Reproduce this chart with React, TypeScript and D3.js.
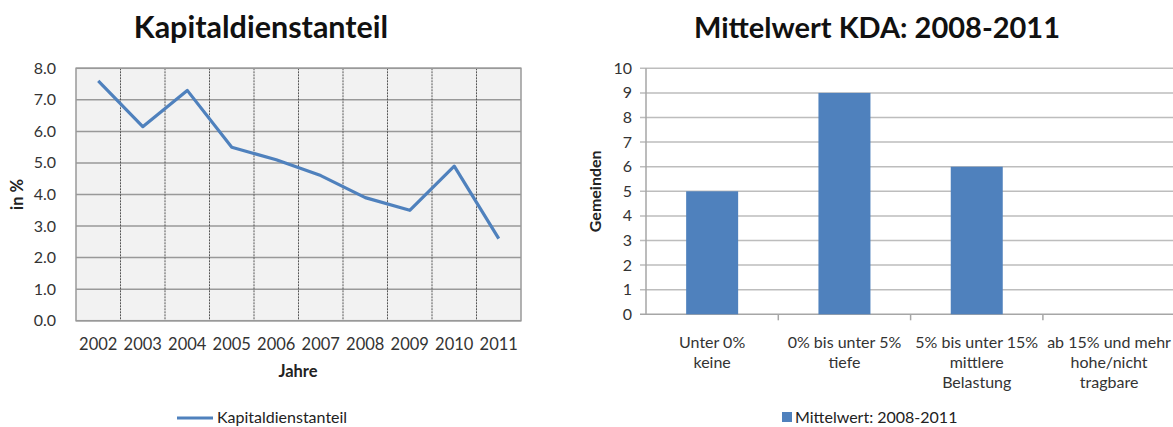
import React from "react";
import * as d3 from "d3";

const years = ["2002","2003","2004","2005","2006","2007","2008","2009","2010","2011"];
const kapitaldienstanteil = [7.6, 6.15, 7.3, 5.5, 5.1, 4.6, 3.9, 3.5, 4.9, 2.6];
const leftTicks = [0,1,2,3,4,5,6,7,8];

const categories = [
  ["Unter 0%", "keine"],
  ["0% bis unter 5%", "tiefe"],
  ["5% bis unter 15%", "mittlere", "Belastung"],
  ["ab 15% und mehr", "hohe/nicht", "tragbare"],
];
const mittelwert = [5, 9, 6, 0];
const rightTicks = [0,1,2,3,4,5,6,7,8,9,10];

const BLUE = "#4F81BD";
const FONT = "Lato, 'Open Sans', sans-serif";

export default function App() {
  // Left chart
  const L = { x0: 76, x1: 521, y0: 68.3, y1: 320.7 };
  const xl = d3.scaleBand().domain(years).range([L.x0, L.x1]).padding(0);
  const yl = d3.scaleLinear().domain([0, 8]).range([L.y1, L.y0]);
  const line = d3.line<number>()
    .x((_, i) => (xl(years[i]) as number) + xl.bandwidth() / 2)
    .y((d) => yl(d));

  // Right chart
  const R = { x0: 646, x1: 1175.2, y0: 68.3, y1: 314.3 };
  const catKeys = categories.map((c) => c.join(" "));
  const xr = d3.scaleBand().domain(catKeys).range([R.x0, R.x1]).paddingInner(0);
  const yr = d3.scaleLinear().domain([0, 10]).range([R.y1, R.y0]);
  const barW = 52;

  return (
    <div style={{ position: "absolute", left: 0, top: 0 }}>
      <svg width={1173} height={427} style={{ display: "block", fontFamily: FONT }}>
        <rect width={1173} height={427} fill="#fff" />
        {/* ===== Left chart ===== */}
        <text x={261} y={38} textAnchor="middle" fontSize={30.5} fontWeight="bold" fill="#111">Kapitaldienstanteil</text>
        <rect x={L.x0} y={L.y0} width={L.x1 - L.x0} height={L.y1 - L.y0} fill="#F2F2F2" />
        {leftTicks.map((t) => (
          <line key={"lh" + t} x1={L.x0} x2={L.x1} y1={yl(t)} y2={yl(t)} stroke="#999" strokeWidth={1.5} />
        ))}
        {years.slice(1).map((y) => (
          <line key={"lv" + y} x1={xl(y)} x2={xl(y)} y1={L.y0} y2={L.y1} stroke="#555" strokeWidth={1} strokeDasharray="2,1" />
        ))}
        <rect x={L.x0} y={L.y0} width={L.x1 - L.x0} height={L.y1 - L.y0} fill="none" stroke="#999" strokeWidth={1.5} />
        {leftTicks.map((t) => (
          <text key={"lt" + t} x={56} y={yl(t) + 5.5} textAnchor="end" fontSize={16} fill="#333">{t.toFixed(1)}</text>
        ))}
        {years.map((y) => (
          <text key={"lx" + y} x={(xl(y) as number) + xl.bandwidth() / 2} y={350} textAnchor="middle" fontSize={16.5} fill="#333">{y}</text>
        ))}
        <path d={line(kapitaldienstanteil) || ""} fill="none" stroke={BLUE} strokeWidth={3.2} strokeLinejoin="round" />
        <text x={298} y={377} textAnchor="middle" fontSize={16.5} fontWeight="bold" fill="#222">Jahre</text>
        <text transform={`translate(23,${(L.y0 + L.y1) / 2}) rotate(-90)`} textAnchor="middle" fontSize={16.5} fontWeight="bold" fill="#222">in %</text>
        {/* legend */}
        <line x1={177} x2={213} y1={418} y2={418} stroke={BLUE} strokeWidth={3} />
        <text x={217} y={423} fontSize={16} fill="#222">Kapitaldienstanteil</text>

        {/* ===== Right chart ===== */}
        <text x={877} y={38} textAnchor="middle" fontSize={29} fontWeight="bold" fill="#111">Mittelwert KDA: 2008-2011</text>
        {rightTicks.map((t) => (
          <line key={"rh" + t} x1={R.x0 - 6} x2={R.x1} y1={yr(t)} y2={yr(t)} stroke={t === 0 ? "#A6A6A6" : "#BDBDBD"} strokeWidth={1.5} />
        ))}
        <line x1={R.x0} x2={R.x0} y1={R.y0} y2={R.y1} stroke="#A6A6A6" strokeWidth={1.5} />
        {catKeys.map((k, i) => i > 0 ? (
          <line key={"rt" + k} x1={xr(k)} x2={xr(k)} y1={R.y1} y2={R.y1 + 6} stroke="#A6A6A6" strokeWidth={1.5} />
        ) : null)}
        {catKeys.map((k, i) => (
          <rect key={"rb" + k} x={(xr(k) as number) + xr.bandwidth() / 2 - barW / 2} y={yr(mittelwert[i])} width={barW} height={R.y1 - yr(mittelwert[i])} fill={BLUE} />
        ))}
        {rightTicks.map((t) => (
          <text key={"rl" + t} x={632} y={yr(t) + 5.5} textAnchor="end" fontSize={16} fill="#333">{t}</text>
        ))}
        {categories.map((lines, i) => (
          <text key={"rc" + i} textAnchor="middle" fontSize={16} fill="#333">
            {lines.map((s, j) => (
              <tspan key={j} x={(xr(catKeys[i]) as number) + xr.bandwidth() / 2} y={348 + j * 20}>{s}</tspan>
            ))}
          </text>
        ))}
        <text transform={`translate(601,${(R.y0 + R.y1) / 2}) rotate(-90)`} textAnchor="middle" fontSize={16} fontWeight="bold" fill="#222">Gemeinden</text>
        {/* legend */}
        <rect x={782} y={412} width={10} height={10} fill={BLUE} />
        <text x={795} y={423} fontSize={16} fill="#222">Mittelwert: 2008-2011</text>
      </svg>
    </div>
  );
}
